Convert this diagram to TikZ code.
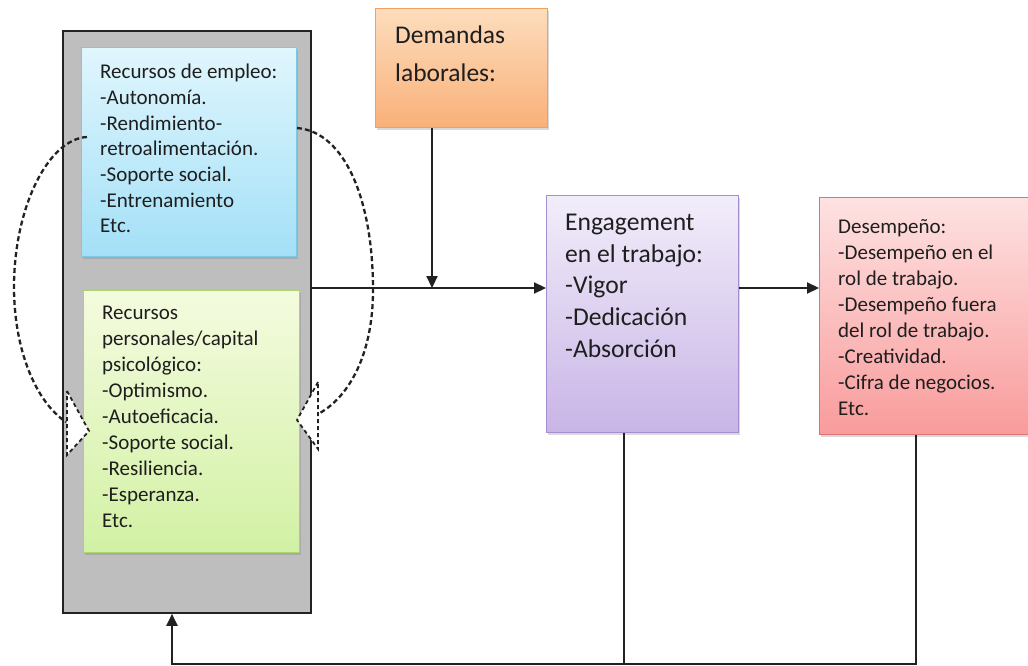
\documentclass[tikz,border=0pt]{standalone}
\usepackage{fontspec}
\setmainfont{Carlito}
\usetikzlibrary{arrows.meta,shadows}
\definecolor{linec}{HTML}{222222}
\definecolor{grayfill}{HTML}{BEBEBE}
\definecolor{bluetop}{HTML}{E0F6FD}
\definecolor{bluebot}{HTML}{A3E0F7}
\definecolor{blueln}{HTML}{7CC9E6}
\definecolor{greentop}{HTML}{F4FBDF}
\definecolor{greenbot}{HTML}{D2F1A4}
\definecolor{greenln}{HTML}{A9D46E}
\definecolor{orgtop}{HTML}{FDDDBD}
\definecolor{orgbot}{HTML}{F9B078}
\definecolor{orgln}{HTML}{F2A05E}
\definecolor{purtop}{HTML}{F2EDFA}
\definecolor{purbot}{HTML}{C8B5E6}
\definecolor{purln}{HTML}{A48ECF}
\definecolor{redtop}{HTML}{FEE2E2}
\definecolor{redbot}{HTML}{F99B9B}
\definecolor{redln}{HTML}{DD7474}
\definecolor{txtc}{HTML}{1E1E1E}
\tikzset{
  box/.style={draw, line width=1.4pt, rectangle, anchor=north west, inner sep=0pt,
    drop shadow={shadow xshift=1.5pt, shadow yshift=-2pt, opacity=0.3}},
  txt/.style={anchor=north west, inner sep=0pt, align=left, text=txtc},
  conn/.style={draw=linec, line width=2.2pt},
  arr/.style={conn, -{Triangle[length=12pt,width=11pt]}},
  dash arc/.style={draw=linec, line width=2.3pt, dash pattern=on 5pt off 3pt},
}
\begin{document}
\begin{tikzpicture}[x=1pt,y=-1pt]
\useasboundingbox (0,0) rectangle (1028,666);
% boxes
\node[draw=linec, line width=1.8pt, fill=grayfill, rectangle, anchor=north west, inner sep=0pt,
      minimum width=248pt, minimum height=582pt] (res) at (62,30) {};
\node[box, draw=blueln, top color=bluetop, bottom color=bluebot,
      minimum width=215pt, minimum height=209pt] (emp) at (81,47) {};
\node[box, draw=greenln, top color=greentop, bottom color=greenbot,
      minimum width=216pt, minimum height=262pt] (pers) at (83,290) {};
\node[box, draw=orgln, top color=orgtop, bottom color=orgbot,
      minimum width=172pt, minimum height=119pt] (dem) at (375,8) {};
\node[box, draw=purln, top color=purtop, bottom color=purbot,
      minimum width=192pt, minimum height=237pt] (eng) at (546,195) {};
\node[box, draw=redln, top color=redtop, bottom color=redbot,
      minimum width=215pt, minimum height=237pt] (des) at (819,197) {};
% texts
\node[txt, font=\fontsize{21}{25.7}\selectfont] (emptxt) at (100,64)
  {Recursos de empleo:\\-Autonomía.\\-Rendimiento-\\retroalimentación.\\-Soporte social.\\-Entrenamiento\\Etc.};
\node[txt, font=\fontsize{21}{26}\selectfont] (perstxt) at (102,306)
  {Recursos\\personales/capital\\psicológico:\\-Optimismo.\\-Autoeficacia.\\-Soporte social.\\-Resiliencia.\\-Esperanza.\\Etc.};
\node[txt, font=\fontsize{25.5}{37.5}\selectfont] (demtxt) at (395,26)
  {Demandas\\laborales:};
\node[txt, font=\fontsize{25.6}{31.6}\selectfont] (engtxt) at (565,214)
  {Engagement\\en el trabajo:\\-Vigor\\-Dedicación\\-Absorción};
\node[txt, font=\fontsize{21}{26}\selectfont] (destxt) at (838,219)
  {Desempeño:\\-Desempeño en el\\rol de trabajo.\\-Desempeño fuera\\del rol de trabajo.\\-Creatividad.\\-Cifra de negocios.\\Etc.};
% helper coordinates
\coordinate (mid) at (0,288);
\coordinate (bot) at (0,664);
\coordinate (join) at (432,288);
\coordinate (fbx) at (172,0);
\coordinate (engx) at (624,0);
\coordinate (desx) at (916,0);
% solid connectors
\draw[arr] (res.east |- mid) -- (eng.west |- mid);
\draw[arr] (dem.south -| join) -- (join);
\draw[arr] (eng.east |- mid) -- (des.west |- mid);
\draw[conn] (eng.south -| engx) -- (engx |- bot);
\draw[arr] (des.south -| desx) -- (desx |- bot) -- (fbx |- bot) -- (res.south -| fbx);
% dashed curved arrows
\coordinate (la0) at (87,137);
\coordinate (la1) at (14,287);
\coordinate (la2) at (66,422);
\coordinate (ra0) at (297,128);
\coordinate (ra1) at (373,290);
\coordinate (ra2) at (318,414);
\draw[dash arc] (la0) .. controls (48,139) and (14,208) .. (la1)
  .. controls (14,350) and (36,402) .. (la2);
\draw[dash arc] (ra0) .. controls (345,132) and (373,200) .. (ra1)
  .. controls (373,360) and (345,400) .. (ra2);
\coordinate (lh1) at (67,391);
\coordinate (lh2) at (89,431);
\coordinate (lh3) at (67,455);
\coordinate (rh1) at (318,382);
\coordinate (rh2) at (297,420);
\coordinate (rh3) at (318,449);
\filldraw[fill=white, dash arc, line width=1.8pt, dash pattern=on 4pt off 3pt] (lh1) -- (lh2) -- (lh3) -- cycle;
\filldraw[fill=white, dash arc, line width=1.8pt, dash pattern=on 4pt off 3pt] (rh1) -- (rh2) -- (rh3) -- cycle;
\end{tikzpicture}
\end{document}
